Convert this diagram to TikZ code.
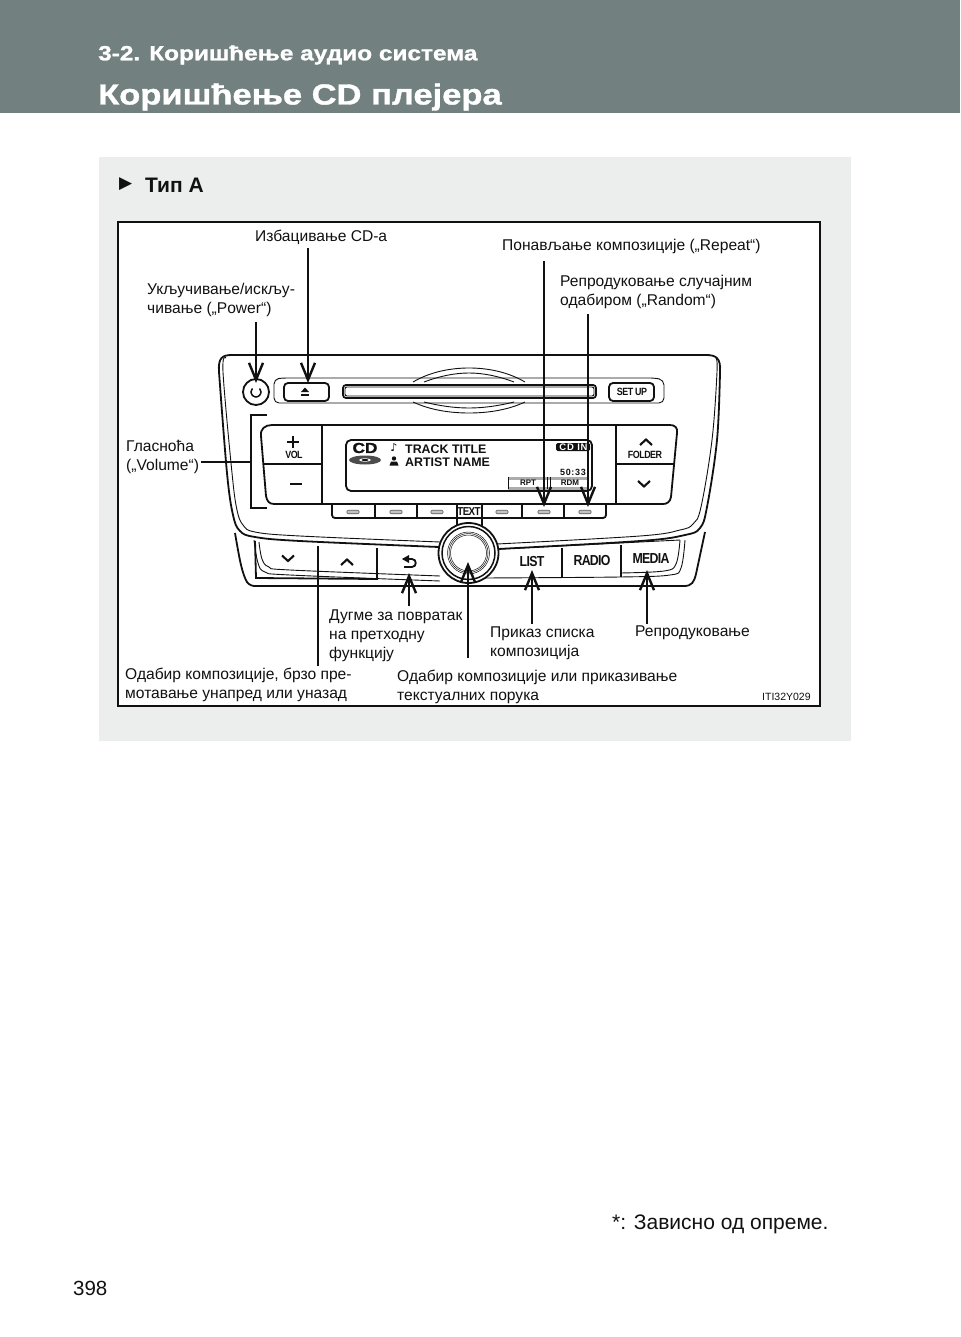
\documentclass[tikz,border=0pt]{standalone}
\usepackage{fontspec}
\usepackage{xcolor}
\usetikzlibrary{arrows.meta,positioning,calc}
\setmainfont{Liberation Sans}
\newfontfamily\headfont[FakeStretch=1.19,BoldFeatures={FakeBold=1.2}]{Liberation Sans}
\newfontfamily\tightfont[LetterSpace=-5,FakeStretch=0.85]{Liberation Sans}
\newfontfamily\widefont[LetterSpace=8]{Liberation Sans}
\newfontfamily\symfont{DejaVu Sans}
\definecolor{headgray}{HTML}{728080}
\definecolor{panelgray}{HTML}{ECEEED}
\definecolor{ink}{HTML}{111111}
\tikzset{
  calllabel/.style={anchor=west,align=left,inner sep=2pt,text=ink,
                    font=\fontsize{15.6}{19.2}\selectfont},
  pagetext/.style={anchor=west,inner sep=0pt,text=ink},
  headtext/.style={anchor=west,inner sep=0pt,text=white,font=\headfont\bfseries},
  devline/.style={draw=ink,line width=1.8pt},
  midline/.style={draw=ink,line width=1.3pt},
  thinline/.style={draw=ink,line width=0.9pt},
  pointer/.style={-{Straight Barb[length=17pt,width=14pt,line width=2.4pt]},
                  line width=2.6pt,draw=ink},
  leader/.style={line width=2.6pt,draw=ink},
  chevron/.style={line width=2.1pt,draw=ink,line join=miter},
  presetdash/.style={draw=ink!70,fill=ink!25,line width=0.6pt,rounded corners=1pt,
                     minimum width=12pt,minimum height=3.5pt,inner sep=0pt},
  keytext/.style={inner sep=0pt,text=ink,font=\tightfont\bfseries\fontsize{10.5}{12}\selectfont},
  bigkey/.style={inner sep=0pt,text=ink,font=\tightfont\bfseries\fontsize{14.5}{17}\selectfont},
  dispname/.style={anchor=west,inner sep=0pt,text=ink,font=\bfseries\fontsize{12.4}{14}\selectfont},
  dispsmall/.style={inner sep=0pt,text=ink,font=\bfseries\fontsize{8}{9}\selectfont}
}
\begin{document}
\begin{tikzpicture}[x=1pt,y=-1pt]
    \path[use as bounding box] (0,0) rectangle (960,1337);
    \fill[white] (0,0) rectangle (960,1337);
    % page furniture
    \fill[headgray] (0,0) rectangle (960,113);
    \node[headtext,font=\headfont\bfseries\fontsize{20.5}{24}\selectfont] (sectionhead) at (98,55) {3-2. Коришћење аудио система};
    \node[headtext,font=\headfont\bfseries\fontsize{29}{34}\selectfont] (titlehead) at (98,97) {Коришћење CD плејера};
    \fill[panelgray] (99,157) rectangle (851,741);
    \node[pagetext,font=\symfont\fontsize{17}{20}\selectfont] (typemark) at (119,184) {▶};
    \node[pagetext,font=\bfseries\fontsize{21}{24}\selectfont] (typehead) at (145,185) {Тип А};
    \draw[fill=white,draw=ink,line width=1.2pt] (118,222) rectangle (820,706);
    \node[pagetext,font=\fontsize{21}{25}\selectfont] (footnote) at (612,1224) {*: Зависно од опреме.};
    \node[pagetext,font=\fontsize{20.5}{25}\selectfont] (pagenum) at (73,1288) {398};

    % faceplate
    \draw[devline] plot[smooth,tension=0.6] coordinates {(439,547) (300,541) (255,537) (240,531) (233,515) (227,473) (219,372)}
      .. controls (218,358) and (222,355) .. (232,355) -- (706,355)
      .. controls (716,355) and (721,358) .. (720,372);
    \draw[devline] plot[smooth,tension=0.6] coordinates {(720,372) (717,440) (707,507) (700,528) (685,535) (640,541) (498,549)};
    \draw[thinline] plot[smooth,tension=0.6] coordinates {(440,542) (300,536) (255,532) (243,525) (237,510) (232,473) (223,372) (226,358)};
    \draw[thinline] plot[smooth,tension=0.6] coordinates {(716,358) (717,372) (712,440) (701,507) (693,524) (680,530) (640,536) (497,544)};
    % lower body
    \draw[devline] plot[smooth,tension=0.6] coordinates {(235,533) (241,565) (247,582) (254,586)} -- (684,586)
      .. controls (692,586) and (694,582) .. (696,574) -- (705,532);
    \draw[thinline] plot[smooth,tension=0.6] coordinates {(254,540) (258,563) (265,572) (290,575) (440,581)};
    \draw[thinline] plot[smooth,tension=0.6] coordinates {(259,542) (262,559) (269,567) (290,570) (440,576)};
    \draw[thinline] plot[smooth,tension=0.6] coordinates {(685,540) (681,568) (670,575) (620,577) (483,578)};
    \draw[thinline] plot[smooth,tension=0.6] coordinates {(680,540) (676,564) (664,571) (620,573)};
    \draw[thinline] (500,549) -- (680,540);
    \draw[devline] (562,548) -- (562,577);
    \draw[devline] (621,545) -- (621,577);
    \draw[devline] (255,541) -- (256,578) -- (377,579) -- (377,548);
    \draw[devline] (318,546) -- (318,579);
    \draw[chevron] (282,555.5) -- (288,561) -- (294,555.5);
    \draw[chevron] (341,565) -- (347,559.5) -- (353,565);
    \draw[line width=1.8pt,draw=ink] (404,567) -- (412,567) .. controls (417,567) and (417,559) .. (412,559) -- (403,559);
    \fill[ink] (402,559) -- (409,555) -- (409,563) -- cycle;
    \node[bigkey] (listkey) at (532,562) {LIST};
    \node[bigkey] (radiokey) at (592,561) {RADIO};
    \node[bigkey] (mediakey) at (651,559) {MEDIA};

    % disc slot strip
    \draw[thinline,rounded corners=5pt] (283,378) -- (274,379) -- (274,403) -- (664,403) -- (664,380) -- (655,378) -- cycle;
    \draw[thinline] (413,382) .. controls (430,372) and (450,368) .. (469,368) .. controls (488,368) and (508,372) .. (525,382);
    \draw[thinline] (424,382) .. controls (440,376) and (455,373) .. (469,373) .. controls (483,373) and (498,376) .. (514,382);
    \draw[thinline] (413,402) .. controls (430,410) and (450,413) .. (469,413) .. controls (488,413) and (508,410) .. (525,402);
    \draw[thinline] (424,402) .. controls (440,406) and (455,408) .. (469,408) .. controls (483,408) and (498,406) .. (514,402);
    \draw[devline,rounded corners=3pt] (343,385) rectangle (596,398);
    \draw[thinline,rounded corners=2pt] (345,387) rectangle (594,396);
    \draw[devline,rounded corners=4pt] (284,383) rectangle (329,401);
    \fill[ink] (301,392) -- (305,387.5) -- (309,392) -- cycle;
    \fill[ink] (301,393.5) rectangle (309,395.5);
    \draw[devline,rounded corners=4pt] (609,383) rectangle (654,401);
    \node[keytext] (setupkey) at (632,392) {SET UP};
    % power key
    \draw[line width=1.8pt,draw=ink] (256,392) circle (13);
    \draw[line width=1.5pt,draw=ink] plot[smooth] coordinates {(252.5,388.5) (251,392) (252.5,395.5) (256,397) (259.5,395.5) (261,392) (259.5,388.5)};

    % control block
    \draw[devline] (272,425) -- (670,425) .. controls (675,425) and (678,428) .. (677,433) -- (671,497)
      .. controls (670,502) and (667,504) .. (663,504) -- (274,504)
      .. controls (269,504) and (267,501) .. (266,496) -- (261,436)
      .. controls (260,429) and (265,425) .. (272,425);
    \draw[devline] (322,425) -- (322,504);
    \draw[devline] (616,425) -- (616,504);
    \draw[devline] (263,464) -- (322,464);
    \draw[devline] (616,464) -- (674,464);
    \draw[line width=2.2pt,draw=ink] (287,442) -- (299,442);
    \draw[line width=2.2pt,draw=ink] (293,436) -- (293,448);
    \draw[line width=2.2pt,draw=ink] (290,484) -- (302,484);
    \node[keytext] (volkey) at (294,455) {VOL};
    \draw[chevron] (640,445) -- (646,439.5) -- (652,445);
    \node[keytext] (folderkey) at (645,455) {FOLDER};
    \draw[chevron] (638,481) -- (644,486.5) -- (650,481);
    % display
    \draw[devline,rounded corners=5pt] (346,440) rectangle (592,491);
    \node[inner sep=0pt,text=ink,font=\headfont\bfseries\fontsize{14.5}{15}\selectfont] (cdlogo) at (365,448) {CD};
    \fill[ink!75] (365,460) ellipse (16 and 4.5);
    \fill[white] (365,460) ellipse (6 and 1.6);
    \fill[ink] (365,460) ellipse (3.5 and 1);
    \node[inner sep=0pt,text=ink,font=\symfont\fontsize{11}{12}\selectfont] (notemark) at (394,448) {♪};
    \fill[ink] (394,458.5) circle (2.2);
    \fill[ink] (389.5,465.5) -- (391,461.5) -- (397,461.5) -- (398.5,465.5) -- cycle;
    \node[dispname] (tracktitle) at (405,449) {TRACK TITLE};
    \node[dispname] (artistname) at (405,462) {ARTIST NAME};
    \fill[ink,rounded corners=1.5pt] (556,443) rectangle (590,451);
    \node[dispsmall,text=white,font=\widefont\bfseries\fontsize{9.5}{10}\selectfont] (cdinmark) at (573.5,447) {CD IN};
    \node[dispsmall,font=\widefont\bfseries\fontsize{9}{10}\selectfont] (timemark) at (573,472.5) {50:33};
    \fill[ink!35] (508,477) rectangle (588,479.5);
    \fill[ink!35] (508,487) rectangle (588,489.5);
    \draw[devline] (508.5,477) -- (508.5,489);
    \draw[thinline] (547.5,477) -- (547.5,489);
    \draw[thinline] (550,477) -- (550,489);
    \node[dispsmall] (rptmark) at (528,483) {RPT};
    \node[dispsmall] (rdmmark) at (570,483) {RDM};

    % preset row
    \draw[devline,rounded corners=3pt] (332,504) -- (332,518) -- (606,518) -- (606,504);
    \foreach \px in {375,417,522,564}{
      \draw[midline] (\px,504) -- (\px,518);
    }
    \foreach \px in {353,396,437,502,544,585}{
      \node[presetdash] (preset\px) at (\px,512) {};
    }
    \draw[midline] (457,504) -- (457,532);
    \draw[midline] (482,504) -- (482,532);
    \node[keytext,font=\tightfont\bfseries\fontsize{11.5}{12}\selectfont] (textkey) at (469,512) {TEXT};

    % knob
    \draw[line width=1.8pt,draw=ink,fill=white] (468.5,553) circle (30);
    \draw[line width=1.5pt,draw=ink] (468.5,553) circle (26.5);
    \foreach \kr in {21,19.5,18}{
      \draw[line width=0.5pt,draw=ink] (468.5,553) circle (\kr);
    }

    % callout texts
    \node[calllabel] (ejectlab) at (253,237) {Избацивање CD-а};
    \node[calllabel] (repeatlab) at (500,246) {Понављање композиције („Repeat“)};
    \node[calllabel] (randomlab) at (558,292) {Репродуковање случајним\\одабиром („Random“)};
    \node[calllabel] (powerlab) at (145,300) {Укључивање/искљу-\\чивање („Power“)};
    \node[calllabel] (volumelab) at (124,457) {Гласноћа\\(„Volume“)};
    \node[calllabel] (backlab) at (327,636) {Дугме за повратак\\на претходну\\функцију};
    \node[calllabel] (listlab) at (488,643) {Приказ списка\\композиција};
    \node[calllabel] (medialab) at (633,633) {Репродуковање};
    \node[calllabel] (seeklab) at (123,685) {Одабир композиције, брзо пре-\\мотавање унапред или уназад};
    \node[calllabel] (knoblab) at (395,687) {Одабир композиције или приказивање\\текстуалних порука};
    \node[pagetext,font=\fontsize{10.5}{12}\selectfont] (figcode) at (762,697) {ITI32Y029};

    % connectors
    \coordinate (powertip) at (256,383);
    \coordinate (ejecttip) at (308,383);
    \coordinate (repeattip) at (544,507);
    \coordinate (randomtip) at (588,507);
    \coordinate (backtip) at (409,573);
    \coordinate (knobtip) at (468,562);
    \coordinate (knobtail) at (468,658);
    \coordinate (listtip) at (532,570);
    \coordinate (mediatip) at (647,570);
    \coordinate (seektop) at (318,579);
    \coordinate (bracketmid) at (251,462);
    \draw[pointer,shorten <=3pt] (powerlab.south -| powertip) -- (powertip);
    \draw[pointer,shorten <=2pt] (ejectlab.south -| ejecttip) -- (ejecttip);
    \draw[pointer,shorten <=6pt] (repeatlab.south -| repeattip) -- (repeattip);
    \draw[pointer,shorten <=3pt] (randomlab.south -| randomtip) -- (randomtip);
    \draw[pointer,shorten <=2pt] (backlab.north -| backtip) -- (backtip);
    \draw[pointer] (knobtail) -- (knobtip);
    \draw[pointer] (listlab.north -| listtip) -- (listtip);
    \draw[pointer] (medialab.north -| mediatip) -- (mediatip);
    \draw[leader] (seeklab.north -| seektop) -- (seektop);
    \draw[leader] (volumelab.east |- bracketmid) -- (bracketmid);
    \draw[line width=2.2pt,draw=ink] (267,415) -- (251,415) -- (251,508) -- (267,508);
\end{tikzpicture}
\end{document}
